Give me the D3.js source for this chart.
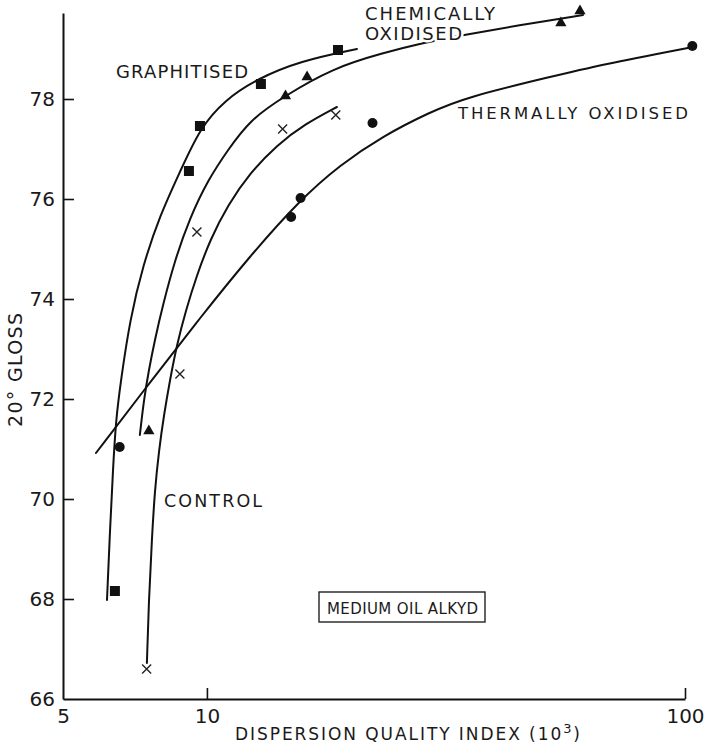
<!DOCTYPE html>
<html>
<head>
<meta charset="utf-8">
<script src="https://cdn.jsdelivr.net/npm/d3@7"></script>
<style>
  html, body { margin: 0; padding: 0; background: #fff; }
  svg { display: block; }
  text { font-family: "DejaVu Sans", "Liberation Sans", sans-serif; fill: #1a1a1a; }
</style>
</head>
<body>
<svg id="chart" width="718" height="752"></svg>
<script>
// Tick values
const xTicks = [5, 10, 100];
const yTicks = [66, 68, 70, 72, 74, 76, 78];

// Measured points: [dispersion quality index (10^3), 20° gloss]
const graphitisedPts = [[6.42, 68.16], [9.17, 76.56], [9.67, 77.46], [12.97, 78.30], [18.8, 78.98]];
const chemicalPts    = [[7.56, 71.36], [14.6, 78.06], [16.2, 78.44], [55.0, 79.52], [60.3, 79.76]];
const controlPts     = [[7.48, 66.60], [8.78, 72.50], [9.53, 75.34], [14.4, 77.40], [18.6, 77.68]];
const thermalPts     = [[6.57, 71.04], [15.0, 75.64], [15.7, 76.02], [22.2, 77.52], [103.6, 79.06]];

// Hand-drawn fitted curves for each treatment
const graphitisedCurve = [[6.18, 67.98], [6.27, 69.38], [6.36, 70.58], [6.45, 71.58], [6.61, 72.38],
  [6.90, 73.58], [7.35, 74.68], [7.98, 75.68], [8.78, 76.54], [9.67, 77.42], [10.90, 77.98],
  [12.72, 78.40], [15.65, 78.76], [20.6, 79.00]];
const chemicalCurve = [[7.24, 71.28], [7.38, 71.98], [7.56, 72.58], [7.78, 73.18], [8.09, 73.88],
  [8.57, 74.78], [9.21, 75.62], [10.05, 76.38], [11.06, 76.98], [12.30, 77.58], [14.42, 78.04],
  [18.35, 78.62], [23.34, 78.92], [28.3, 79.12], [34.3, 79.28], [45.2, 79.48], [61.2, 79.68]];
const controlCurve = [[7.49, 66.72], [7.56, 67.98], [7.67, 69.18], [7.78, 70.18], [7.94, 70.98],
  [8.13, 71.68], [8.37, 72.38], [8.65, 73.08], [9.04, 73.78], [9.53, 74.48], [10.15, 75.18],
  [11.06, 75.88], [12.30, 76.52], [14.01, 77.08], [16.03, 77.50], [18.70, 77.84]];
const thermalCurve = [[5.86, 70.92], [7.67, 72.38], [9.67, 73.62], [12.30, 74.86], [15.65, 75.98],
  [18.97, 76.68], [23.34, 77.26], [29.3, 77.74], [34.99, 78.04], [52.2, 78.44], [66.4, 78.68],
  [103.9, 79.04]];

const svg = d3.select("#chart");

const x = d3.scaleLog().domain([5, 100]).range([63, 685]);
const y = d3.scaleLinear().domain([66, 79.72]).range([699, 13]);

// Axes: ticks point inward
const yAxis = d3.axisLeft(y).tickValues(yTicks).tickSize(-11).tickSizeOuter(0).tickPadding(8)
  .tickFormat(d3.format("d"));
const xAxis = d3.axisBottom(x).tickValues(xTicks).tickSize(-11).tickSizeOuter(0).tickPadding(10)
  .tickFormat(d3.format("d"));

const gy = svg.append("g").attr("transform", `translate(${x(5)},0)`).call(yAxis);
const gx = svg.append("g").attr("transform", `translate(0,${y(66)})`).call(xAxis);

[gx, gy].forEach(g => {
  g.selectAll(".domain").attr("stroke", "#111").attr("stroke-width", 2);
  g.selectAll(".tick line").attr("stroke", "#111").attr("stroke-width", 1.6);
  g.selectAll(".tick text").attr("font-size", 20).attr("fill", "#2a2a2a")
    .style("font-family", "DejaVu Sans, sans-serif");
});
gx.selectAll(".tick").filter(d => d === 5).select("line").remove();
gy.selectAll(".tick").filter(d => d === 66).select("line").remove();

// Curves
const line = d3.line()
  .x(d => x(d[0]))
  .y(d => y(d[1]))
  .curve(d3.curveBasis);

[graphitisedCurve, chemicalCurve, controlCurve, thermalCurve].forEach(c => {
  svg.append("path").datum(c)
    .attr("d", line)
    .attr("fill", "none")
    .attr("stroke", "#111")
    .attr("stroke-width", 2)
    .attr("stroke-linecap", "round");
});

// Markers
svg.append("g").selectAll("rect").data(graphitisedPts).join("rect")
  .attr("x", d => x(d[0]) - 5).attr("y", d => y(d[1]) - 5)
  .attr("width", 10).attr("height", 10).attr("fill", "#111");

const tri = d3.symbol().type(d3.symbolTriangle).size(55);
svg.append("g").selectAll("path").data(chemicalPts).join("path")
  .attr("d", tri)
  .attr("transform", d => `translate(${x(d[0])},${y(d[1])})`)
  .attr("fill", "#111");

svg.append("g").selectAll("circle").data(thermalPts).join("circle")
  .attr("cx", d => x(d[0])).attr("cy", d => y(d[1])).attr("r", 5)
  .attr("fill", "#111");

const cross = svg.append("g").attr("stroke", "#222").attr("stroke-width", 1.4);
cross.selectAll("path").data(controlPts).join("path")
  .attr("d", d => {
    const cx = x(d[0]), cy = y(d[1]), s = 4.5;
    return `M${cx - s},${cy - s}L${cx + s},${cy + s}M${cx - s},${cy + s}L${cx + s},${cy - s}`;
  });

// Curve labels
function label(text, px, py, size, len, halo) {
  const t = svg.append("text")
    .attr("x", px).attr("y", py)
    .attr("font-size", size)
    .attr("textLength", len)
    .attr("lengthAdjust", "spacing")
    .text(text);
  if (halo) {
    t.attr("stroke", "#fff").attr("stroke-width", 5).attr("paint-order", "stroke");
  }
  return t;
}
label("GRAPHITISED", 116, 78, 18, 132);
label("CHEMICALLY", 365, 20, 18, 130);
label("OXIDISED", 365, 40, 18, 97, true);
label("THERMALLY  OXIDISED", 458, 119, 16.5, 230);
label("CONTROL", 164, 507, 17.5, 98);

// Boxed note
svg.append("rect")
  .attr("x", 319).attr("y", 592).attr("width", 166).attr("height", 30)
  .attr("fill", "none").attr("stroke", "#222").attr("stroke-width", 1.4);
label("MEDIUM OIL ALKYD", 327, 614, 15, 151);

// Axis titles
const xt = svg.append("text")
  .attr("x", 235).attr("y", 740)
  .attr("font-size", 17)
  .attr("textLength", 345).attr("lengthAdjust", "spacing");
xt.append("tspan").text("DISPERSION QUALITY INDEX (10");
xt.append("tspan").attr("dy", -7).attr("font-size", 13).text("3");
xt.append("tspan").attr("dy", 7).text(")");

svg.append("text")
  .attr("transform", "translate(22,427) rotate(-90)")
  .attr("font-size", 19)
  .attr("textLength", 114).attr("lengthAdjust", "spacing")
  .text("20° GLOSS");
</script>
</body>
</html>
